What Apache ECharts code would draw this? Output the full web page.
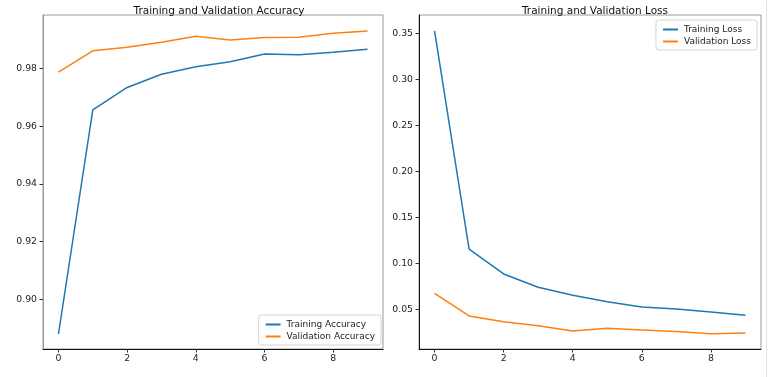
<!DOCTYPE html>
<html>
<head>
<meta charset="utf-8">
<script src="https://cdn.jsdelivr.net/npm/echarts@6/dist/echarts.min.js"></script>
<style>
  html, body { margin: 0; padding: 0; background: #fff; }
  #chart { width: 768px; height: 377px; }
</style>
</head>
<body>
<div id="chart"></div>
<script>
// epochs
const epochs = [0, 1, 2, 3, 4, 5, 6, 7, 8, 9]
const xTicks = [0, 2, 4, 6, 8]

// accuracy
const trainAcc = [0.8880, 0.9656, 0.9734, 0.9780, 0.9806, 0.9823, 0.9850, 0.9847, 0.9856, 0.9866]
const valAcc = [0.9787, 0.9861, 0.9873, 0.9891, 0.9911, 0.9898, 0.9907, 0.9908, 0.9922, 0.9930]
const accTicks = [0.90, 0.92, 0.94, 0.96, 0.98]

// loss
const trainLoss = [0.3528, 0.1155, 0.0884, 0.0739, 0.0652, 0.0583, 0.0525, 0.0503, 0.0471, 0.0435]
const valLoss = [0.0674, 0.0427, 0.0365, 0.0322, 0.0264, 0.0293, 0.0275, 0.0257, 0.0235, 0.0242]
const lossTicks = [0.05, 0.10, 0.15, 0.20, 0.25, 0.30, 0.35]

const blue = '#1f77b4', orange = '#ff7f0e'
const font = 'DejaVu Sans'

const pairs = arr => epochs.map((e, i) => [e, arr[i]])

const xAxisFor = function (gridIndex) {
  return {
    type: 'value', gridIndex: gridIndex, min: -0.45, max: 9.45,
    splitLine: {show: false},
    axisLine: {show: true, onZero: false, lineStyle: {color: '#111', width: 1}},
    axisTick: {show: true, customValues: xTicks, length: 3.5, lineStyle: {color: '#333'}},
    axisLabel: {customValues: xTicks, margin: 5, fontFamily: font, fontSize: 9.3, color: '#222'},
  }
}

const yAxisFor = function (gridIndex, min, max, ticks, lineColor) {
  return {
    type: 'value', gridIndex: gridIndex, min: min, max: max,
    splitLine: {show: false},
    axisLine: {show: true, onZero: false, lineStyle: {color: lineColor, width: 1}},
    axisTick: {show: true, customValues: ticks, length: 3.5, lineStyle: {color: '#333'}},
    axisLabel: {customValues: ticks, margin: 6, fontFamily: font, fontSize: 9.3, color: '#222',
      formatter: v => v.toFixed(2)},
  }
}

const lineSeries = function (name, data, color, idx) {
  return {
    name: name, type: 'line', xAxisIndex: idx, yAxisIndex: idx,
    data: pairs(data), showSymbol: false, symbol: 'none', silent: true,
    lineStyle: {color: color, width: 1.5}, itemStyle: {color: color},
  }
}

const legendFor = function (data, pos) {
  return Object.assign({
    orient: 'vertical', data: data,
    icon: 'rect', itemWidth: 15, itemHeight: 2, itemGap: 3,
    padding: [5, 6, 4, 7],
    backgroundColor: 'rgba(255,255,255,0.85)', borderColor: '#d6d6d6', borderWidth: 1, borderRadius: 3,
    textStyle: {fontFamily: font, fontSize: 9, color: '#222', padding: [0, 0, 0, 1]},
    selectedMode: false,
  }, pos)
}

const chart = echarts.init(document.getElementById('chart'), null, {renderer: 'canvas'})

chart.setOption({
  backgroundColor: '#fff',
  animation: false,
  title: [
    {text: 'Training and Validation Accuracy', left: 214, top: 1, textAlign: 'center',
      textStyle: {fontFamily: font, fontSize: 10.5, fontWeight: 'normal', color: '#111'}},
    {text: 'Training and Validation Loss', left: 590, top: 1, textAlign: 'center',
      textStyle: {fontFamily: font, fontSize: 10.5, fontWeight: 'normal', color: '#111'}},
  ],
  grid: [
    {left: 43, right: 385, top: 15, bottom: 28, show: true, borderColor: '#999', borderWidth: 1},
    {left: 419, right: 7, top: 15, bottom: 28, show: true, borderColor: '#999', borderWidth: 1},
  ],
  xAxis: [xAxisFor(0), xAxisFor(1)],
  yAxis: [
    yAxisFor(0, 0.8828, 0.9985, accTicks, '#999'),
    yAxisFor(1, 0.0068, 0.3700, lossTicks, '#111'),
  ],
  legend: [
    legendFor(['Training Accuracy', 'Validation Accuracy'], {right: 387, bottom: 32}),
    legendFor(['Training Loss', 'Validation Loss'], {right: 11, top: 20}),
  ],
  series: [
    lineSeries('Training Accuracy', trainAcc, blue, 0),
    lineSeries('Validation Accuracy', valAcc, orange, 0),
    lineSeries('Training Loss', trainLoss, blue, 1),
    lineSeries('Validation Loss', valLoss, orange, 1),
  ],
  graphic: [
    {type: 'line', shape: {x1: 766.5, y1: 0, x2: 766.5, y2: 377}, style: {stroke: '#e4e4e4', lineWidth: 1}, silent: true},
  ],
})
</script>
</body>
</html>
